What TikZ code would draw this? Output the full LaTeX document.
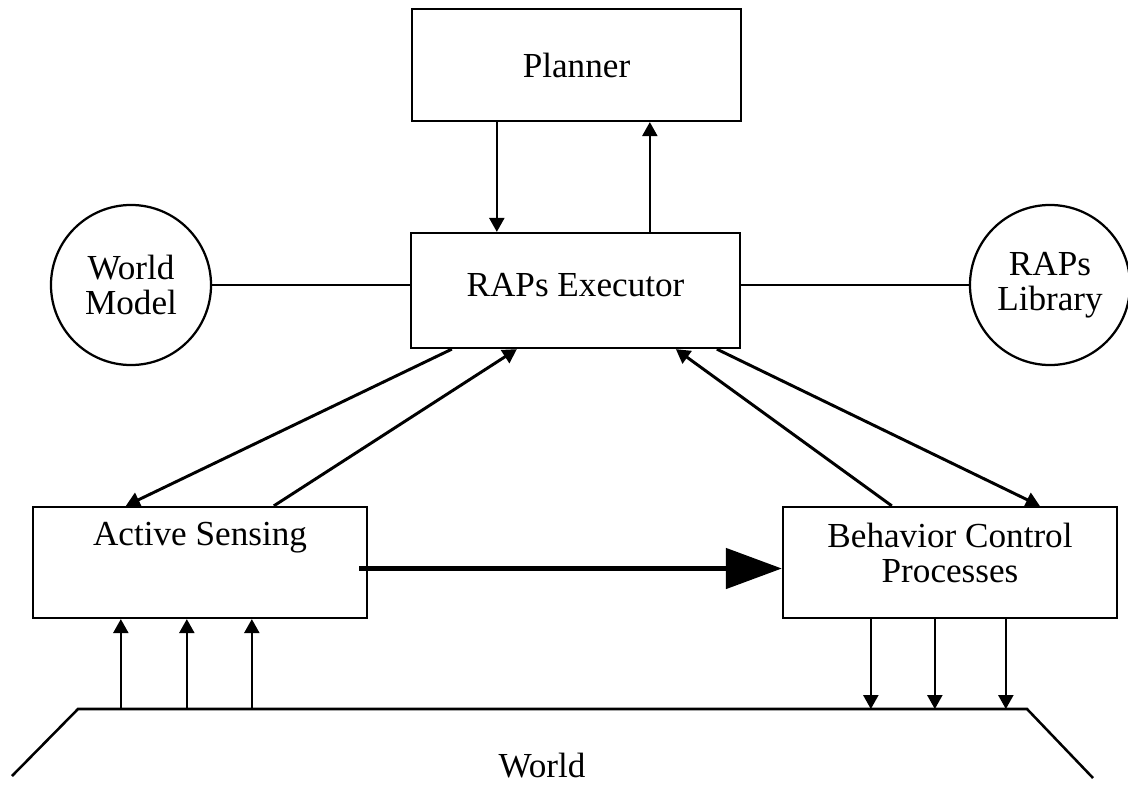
\documentclass[tikz,border=0pt]{standalone}
\usepackage{fontspec}
\setmainfont{Liberation Serif}
\usetikzlibrary{arrows.meta,calc}
\begin{document}
\begin{tikzpicture}[x=0.025cm,y=-0.025cm,
  every node/.style={font=\fontsize{25}{25}\selectfont, inner sep=0pt},
  box/.style={draw, line width=1.6pt, inner sep=0pt},
  blob/.style={draw, circle, line width=1.6pt, minimum size=4cm, align=center},
  txt/.style={align=center},
  tip/.style={-{Triangle[length=0.35cm,width=0.38cm]}},
  link/.style={line width=1.3pt},
  diag/.style={line width=2.1pt},
  bigarrow/.style={line width=3.5pt, -{Triangle[length=1.4cm,width=1.0cm]}}
]
\useasboundingbox (0,0) rectangle (1128,787);

% boxes and stores
\node[box, minimum width=8.225cm, minimum height=2.8cm] (pl) at (576.5,65) {Planner};
\node[box, minimum width=8.225cm, minimum height=2.875cm] (ex) at (575.5,290.5) {};
\node[txt] (ext) at (575.5,285.5) {RAPs Executor};
\node[blob] (wm) at (131,285) {World\\Model};
\node[blob] (lib) at (1050,285) {RAPs\\Library};
\node[box, minimum width=8.35cm, minimum height=2.775cm] (as) at (200,562.5) {};
\node[txt, text depth=0pt] (ast) at (200,534) {Active Sensing};
\node[box, minimum width=8.35cm, minimum height=2.775cm] (bc) at (950,562.5) {};
\node[txt] (bct) at (950,553) {Behavior Control\\Processes};

% planner <-> executor
\draw[link,tip] ($(pl.south west)+(86,0)$) coordinate (p1) -- (p1 |- ex.north);
\draw[link,tip] ($(ex.north west)+(240,0)$) coordinate (p2) -- (p2 |- pl.south);

% stores attached to the executor
\draw[link] (wm.east) -- (wm.east -| ex.west);
\draw[link] (lib.west) -- (lib.west -| ex.east);

% executor <-> sensing / behaviour
\draw[diag,tip] ($(ex.south west)+(42,0)$) -- ($(as.north west)+(94,0)$);
\draw[diag,tip] ($(as.north west)+(242,0)$) -- ($(ex.south west)+(107,0)$);
\draw[diag,tip] ($(bc.north west)+(110,0)$) -- ($(ex.south west)+(266,0)$);
\draw[diag,tip] ($(ex.south west)+(307,0)$) -- ($(bc.north west)+(258,0)$);

% sensing feeds behaviour
\draw[bigarrow] ($(as.east)+(-9,6)$) -- ($(bc.west)+(0,6)$);

% the world
\coordinate (wll) at (12,776);
\coordinate (wl) at (78,709);
\coordinate (wr) at (1027,709);
\coordinate (wrr) at (1093,778);
\draw[line width=1.8pt] (wll) -- (wl) -- (wr) -- (wrr);
\node (world) at (542,766) {World};

\foreach \dx [count=\i] in {89,155,220} {
  \coordinate (s\i) at ($(as.south west)+(\dx,0)$);
  \draw[link,tip] (wl -| s\i) -- (s\i);
}
\foreach \dx [count=\i] in {89,153,224} {
  \coordinate (b\i) at ($(bc.south west)+(\dx,0)$);
  \draw[link,tip] (b\i) -- (wl -| b\i);
}
\end{tikzpicture}
\end{document}
